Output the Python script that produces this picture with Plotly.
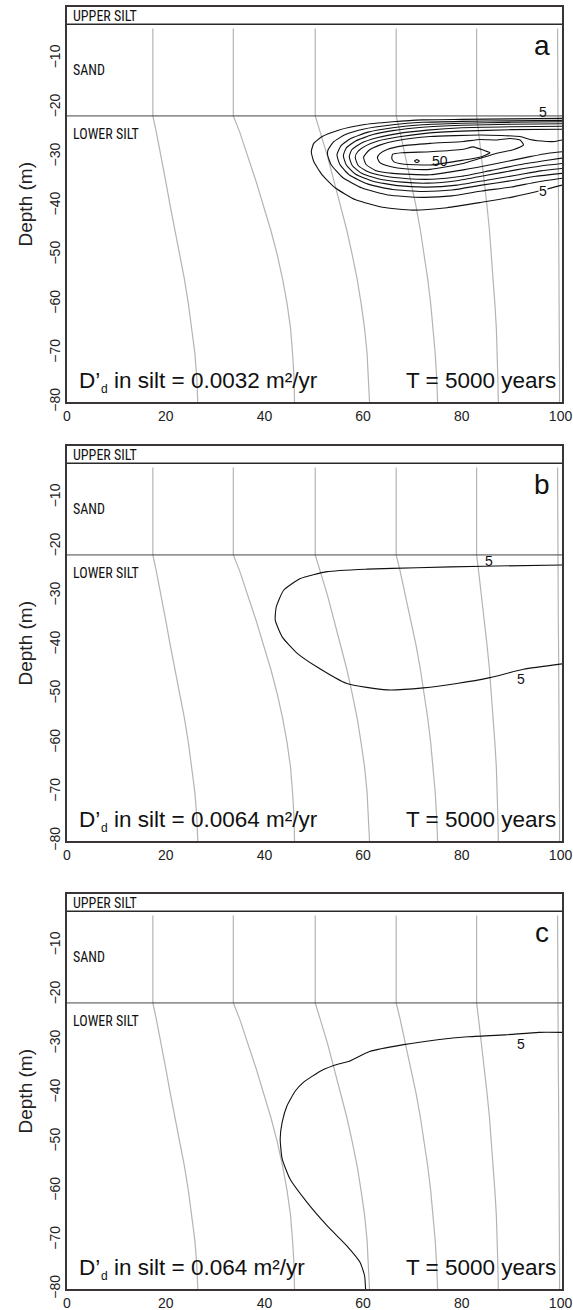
import plotly.graph_objects as go

# ---------------------------------------------------------------- data
# Depth stations (m) used by the gray flow paths
FLOW_DEPTH = [-3.9, -21.7, -25, -30, -35, -40, -45, -50, -55, -60, -65, -70, -75, -80]
FLOW_X1 = [17.4, 17.4, 18.1, 19.1, 20.0, 20.9, 21.9, 22.9, 23.8, 24.6, 25.3, 25.9, 26.3, 26.5]
FLOW_X2 = [33.7, 33.7, 35.0, 36.7, 38.3, 39.8, 41.3, 42.6, 43.7, 44.6, 45.3, 45.7, 46.0, 46.1]
FLOW_X3 = [50.3, 50.3, 51.3, 52.8, 54.1, 55.4, 56.7, 57.8, 58.8, 59.6, 60.3, 60.8, 61.1, 61.3]
FLOW_X4 = [66.7, 66.7, 67.5, 68.6, 69.7, 70.7, 71.6, 72.4, 73.1, 73.7, 74.2, 74.6, 74.9, 75.1]
FLOW_X5 = [83.0, 83.0, 83.4, 84.0, 84.6, 85.1, 85.6, 86.0, 86.4, 86.7, 87.0, 87.2, 87.3, 87.4]
FLOW_X6 = [99.4, 99.4, 99.45, 99.5, 99.55, 99.6, 99.65, 99.7, 99.72, 99.75, 99.77, 99.78, 99.8, 99.8]

# Layer boundaries (m)
UPPER_SILT_BASE = -3.0
SAND_BASE = -21.7

# Panel a: concentration contours, levels 5..45 plus the 50 peak
A05_X = [100.3, 90, 80, 72, 66, 60, 55, 51.7, 50.0, 49.5, 50.0, 51.7, 54.4, 58.5, 63.9, 70, 77, 84, 90.4, 96.5, 100.3]
A05_D = [-22.2, -22.3, -22.4, -22.5, -22.9, -23.5, -24.6, -25.9, -27.3, -29.0, -31.0, -33.7, -36.4, -38.8, -40.3, -40.9, -40.4, -39.3, -38.2, -36.8, -35.8]
A10_X = [100.3, 90, 80, 72, 66, 60, 56.4, 54, 52.9, 52.8, 53.5, 55.8, 59.8, 65, 72, 78, 84, 90, 95, 100.3]
A10_D = [-22.6, -22.7, -22.8, -23.0, -23.5, -24.4, -25.5, -27.0, -28.6, -29.6, -31.6, -34.2, -36.4, -37.8, -38.3, -38.0, -37.0, -36.2, -35.2, -34.4]
A15_X = [100.3, 90, 80, 72, 66, 61, 57.5, 55.5, 54.7, 55.3, 57.3, 61, 66, 72, 78, 84, 90, 95, 100.3]
A15_D = [-22.9, -23.0, -23.2, -23.5, -24.1, -25.0, -26.3, -27.8, -29.6, -31.6, -33.8, -35.6, -36.7, -37.1, -36.8, -35.8, -34.9, -34.0, -33.4]
A20_X = [100.3, 90, 80, 72, 66, 62, 58.5, 56.6, 56.0, 56.6, 58.5, 62, 67, 73, 79, 85, 91, 96, 100.3]
A20_D = [-23.3, -23.4, -23.6, -24.0, -24.7, -25.5, -26.8, -28.2, -29.8, -31.7, -33.6, -35.0, -35.9, -36.2, -35.8, -34.8, -33.8, -32.9, -32.4]
A25_X = [100.3, 90, 80, 73, 67, 63, 59.5, 57.7, 57.2, 57.8, 59.7, 63, 68, 73, 79, 85, 91, 96, 100.3]
A25_D = [-23.8, -23.9, -24.1, -24.6, -25.3, -26.1, -27.3, -28.6, -30.0, -31.8, -33.4, -34.5, -35.2, -35.4, -34.9, -33.8, -32.7, -31.9, -31.4]
A30_X = [100.3, 90, 80, 73, 67, 63, 60.5, 58.9, 58.4, 59.0, 61, 64, 69, 74, 80, 86, 92, 97, 100.3]
A30_D = [-24.4, -24.5, -24.8, -25.2, -26.0, -26.8, -27.8, -29.0, -30.1, -31.8, -33.1, -33.9, -34.5, -34.6, -34.0, -32.8, -31.6, -30.8, -30.3]
A35_X = [100.3, 98.9, 97.2, 93.8, 91.8, 83.7, 73.6, 67, 63.5, 61.2, 60.1, 60.6, 62.5, 66, 73.6, 80.3, 87.1, 93.8, 97.5, 100.3]
A35_D = [-26.6, -26.9, -26.9, -26.5, -25.9, -25.6, -25.9, -26.7, -27.6, -28.7, -30.1, -31.6, -32.8, -33.4, -33.7, -32.7, -31.4, -30.0, -29.3, -29.0]
A40_X = [92.5, 91.8, 89.8, 87.1, 83.7, 80.3, 73.6, 68, 65, 63.4, 62.9, 63.4, 65.5, 69, 73.6, 80.3, 87.1, 90.4, 92.5]
A40_D = [-27.6, -26.6, -26.3, -26.6, -26.5, -26.9, -27.3, -27.8, -28.5, -29.4, -30.2, -31.2, -32.0, -32.5, -32.6, -31.4, -29.3, -28.6, -27.6]
A45_X = [85.7, 84.7, 82.3, 80.3, 73.6, 68, 66, 65.8, 66.2, 68, 73.6, 80.3, 84.0, 85.7]
A45_D = [-29.2, -28.8, -28.0, -28.5, -29.0, -29.2, -29.5, -30.3, -31.0, -31.5, -31.7, -30.7, -30.0, -29.2]
A50_X = [70.4, 70.9, 71.4, 70.9, 70.4]
A50_D = [-30.9, -30.6, -30.9, -31.2, -30.9]

# Panel b: level 5 contour
B05_X = [100.3, 84.4, 70.9, 60.8, 52.7, 47.3, 43.9, 42.4, 42.2, 43.6, 46.6, 50.6, 56.7, 64.8, 72.2, 79.0, 85.7, 92.5, 100.3]
B05_D = [-23.75, -24.0, -24.3, -24.6, -25.1, -26.5, -28.9, -32.3, -35.0, -38.4, -41.7, -44.5, -47.9, -49.2, -48.8, -47.9, -46.7, -45.0, -43.9]

# Panel c: level 5 contour
C05_X = [100.3, 95.6, 88.8, 81.2, 75.1, 68.2, 61.3, 57.2, 55.2, 51.5, 47.9, 46.3, 44.6, 43.6, 43.2, 43.6, 45.2, 48.6, 52.7, 56.7, 59.4, 60.3, 60.5]
C05_D = [-27.7, -27.7, -28.2, -28.6, -29.2, -30.2, -31.6, -33.6, -34.1, -35.5, -37.9, -39.6, -42.6, -46.0, -49.4, -53.5, -57.6, -62.3, -67.1, -71.2, -74.6, -77.3, -80.0]

PANEL_LETTERS = ["a", "b", "c"]
DIFFUSIVITY = ["0.0032", "0.0064", "0.064"]
X_TICKS = [0, 20, 40, 60, 80, 100]
Y_TICKS = [-80, -70, -60, -50, -40, -30, -20, -10]

# ---------------------------------------------------------------- layout
W, H = 573, 1310
LEFT_PX, RIGHT_PX = 67, 562
PANELS_PX = [(7, 402), (446, 841), (894, 1289)]
X_RANGE = [0, 100.3]
Y_RANGE = [-80, 0.5]

FONT = "Liberation Sans, Arial, Helvetica, sans-serif"
NARROW = "Roboto Condensed, Liberation Sans Narrow, Arial Narrow, Liberation Sans, sans-serif"
FRAME = "#3a3434"
GRAY = "#b4b4b4"

fig = go.Figure()

flow_paths = [FLOW_X1, FLOW_X2, FLOW_X3, FLOW_X4, FLOW_X5, FLOW_X6]
contours = [
    [(A05_X, A05_D), (A10_X, A10_D), (A15_X, A15_D), (A20_X, A20_D), (A25_X, A25_D),
     (A30_X, A30_D), (A35_X, A35_D), (A40_X, A40_D), (A45_X, A45_D), (A50_X, A50_D)],
    [(B05_X, B05_D)],
    [(C05_X, C05_D)],
]

annotations = []
shapes = []

for i, (top, bot) in enumerate(PANELS_PX):
    n = "" if i == 0 else str(i + 1)
    xa, ya = "x" + n, "y" + n

    for fx in flow_paths:
        fig.add_trace(go.Scatter(x=fx, y=FLOW_DEPTH, mode="lines", xaxis=xa, yaxis=ya,
                                 line=dict(color=GRAY, width=1.2), hoverinfo="skip"))
    for cx, cd in contours[i]:
        fig.add_trace(go.Scatter(x=cx, y=cd, mode="lines", xaxis=xa, yaxis=ya,
                                 line=dict(color="#111111", width=1.1, shape="spline", smoothing=0.5),
                                 hoverinfo="skip"))

    dom = [(H - bot) / H, (H - top) / H]
    fig.update_layout({
        "xaxis" + n: dict(domain=[LEFT_PX / W, RIGHT_PX / W], range=X_RANGE, anchor=ya,
                          showline=True, mirror=True, linecolor=FRAME, linewidth=1.5,
                          showgrid=False, zeroline=False, ticks="", tickvals=X_TICKS,
                          tickfont=dict(family=FONT, size=14, color="#222"), automargin=False),
        "yaxis" + n: dict(domain=dom, range=Y_RANGE, anchor=xa,
                          showline=True, mirror=True, linecolor=FRAME, linewidth=1.5,
                          showgrid=False, zeroline=False, ticks="", tickvals=Y_TICKS,
                          tickangle=-90, tickfont=dict(family=FONT, size=14, color="#222"),
                          automargin=False),
    })

    # layer boundaries
    shapes.append(dict(type="line", xref=xa, yref=ya, x0=X_RANGE[0], x1=X_RANGE[1],
                       y0=UPPER_SILT_BASE, y1=UPPER_SILT_BASE, line=dict(color="#2a2a2a", width=1.5)))
    shapes.append(dict(type="line", xref=xa, yref=ya, x0=X_RANGE[0], x1=X_RANGE[1],
                       y0=SAND_BASE, y1=SAND_BASE, line=dict(color="#444", width=1)))

    def ann(x, y, text, size, anchor="left", family=FONT, **kw):
        annotations.append(dict(x=x, y=y, xref=xa, yref=ya, text=text, showarrow=False,
                                xanchor=anchor, yanchor="middle",
                                font=dict(family=family, size=size, color="#111"), **kw))

    ann(0.9, -1.4, "UPPER SILT", 14, family=NARROW)
    ann(0.9, -12.3, "SAND", 14, family=NARROW)
    ann(0.9, -25.4, "LOWER SILT", 14, family=NARROW)
    ann(96.2, -7.3, PANEL_LETTERS[i], 28, anchor="center")
    # diffusivity label: D' with a lowered small "d", then the rest of the line
    ann(2.1, -75.6, "D’", 22.5)
    ann(2.1, -75.6, "d", 12, xshift=22, yshift=-8.5)
    ann(2.1, -75.6, "in silt = " + DIFFUSIVITY[i] + " m²/yr", 22.5, xshift=34.5)
    ann(99.4, -75.6, "T = 5000 years", 22.5, anchor="right")

    # axis title
    annotations.append(dict(x=25 / W, y=(dom[0] + dom[1]) / 2, xref="paper", yref="paper",
                            text="Depth (m)", textangle=-90, showarrow=False,
                            xanchor="center", yanchor="middle",
                            font=dict(family=FONT, size=19, color="#222")))

# contour labels
def clabel(n, x, y, text, bg=None):
    annotations.append(dict(x=x, y=y, xref="x" + n, yref="y" + n, text=text, showarrow=False,
                            xanchor="center", yanchor="middle", bgcolor=bg,
                            borderpad=0, font=dict(family=FONT, size=14, color="#111")))

clabel("", 96.5, -20.9, "5")
clabel("", 96.5, -36.9, "5", bg="white")
clabel("", 75.6, -30.9, "50")
clabel("2", 85.6, -22.9, "5")
clabel("2", 91.9, -46.9, "5")
clabel("3", 91.9, -30.0, "5")

fig.update_layout(width=W, height=H, margin=dict(l=0, r=0, t=0, b=0),
                  paper_bgcolor="white", plot_bgcolor="white", showlegend=False,
                  annotations=annotations, shapes=shapes)

fig.write_html("out.html")
